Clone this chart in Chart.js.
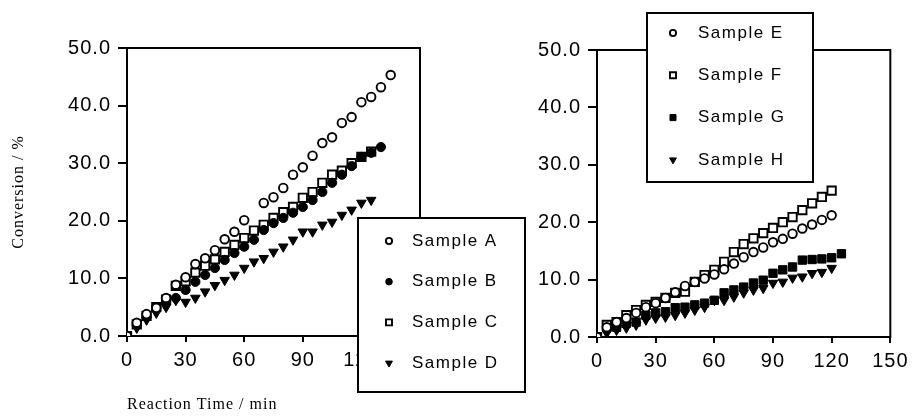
<!DOCTYPE html>
<html>
<head>
<meta charset="utf-8">
<script src="https://cdn.jsdelivr.net/npm/chart.js@4/dist/chart.umd.min.js"></script>
<style>
  html, body { margin: 0; padding: 0; background: #fff; }
  #wrap { position: relative; width: 913px; height: 417px; }
  canvas { position: absolute; left: 0; top: 0; }
</style>
</head>
<body>
<div id="wrap">
  <canvas id="leftPlot" width="913" height="417"></canvas>
  <canvas id="rightPlot" width="913" height="417"></canvas>
</div>
<script>
// ---- axis ticks ----
const xTickValues = [0, 30, 60, 90, 120, 150];
const xTickLabels = ['0', '30', '60', '90', '120', '150'];
const yTickValues = [0, 10, 20, 30, 40, 50];
const yTickLabels = ['0.0', '10.0', '20.0', '30.0', '40.0', '50.0'];

// ---- series names ----
const leftNames = ['Sample A', 'Sample B', 'Sample C', 'Sample D'];
const rightNames = ['Sample E', 'Sample F', 'Sample G', 'Sample H'];

// ---- reaction time (min) and conversion (%) ----
const timeA = [0, 5, 10, 15, 20, 25, 30, 35, 40, 45, 50, 55, 60, 70, 75, 80, 85, 90, 95, 100, 105, 110, 115, 120, 125, 130, 135];
const convA = [0, 2.3, 3.8, 4.9, 6.6, 8.9, 10.2, 12.5, 13.5, 14.9, 16.8, 18.1, 20.1, 23.1, 24.1, 25.7, 28.0, 29.3, 31.3, 33.5, 34.5, 37.0, 38.0, 40.6, 41.5, 43.2, 45.3];

const timeB = [0, 5, 10, 15, 20, 25, 30, 35, 40, 45, 50, 55, 60, 65, 70, 75, 80, 85, 90, 95, 100, 105, 110, 115, 120, 125, 130];
const convB = [0, 1.9, 3.3, 5.0, 5.9, 6.6, 8.0, 9.4, 10.6, 11.8, 13.2, 14.4, 15.5, 16.7, 18.4, 19.6, 20.5, 21.4, 22.4, 23.6, 25.0, 26.6, 28.0, 29.5, 31.1, 31.8, 32.8];

const timeC = [0, 5, 10, 15, 20, 25, 30, 35, 40, 45, 50, 55, 60, 65, 70, 75, 80, 85, 90, 95, 100, 105, 110, 115, 120, 125];
const convC = [0, 2.0, 3.5, 5.0, 6.3, 8.7, 9.5, 11.0, 12.2, 13.3, 14.6, 15.8, 17.0, 18.3, 19.3, 20.5, 21.5, 22.4, 24.0, 25.0, 26.6, 28.0, 28.7, 30.0, 31.1, 32.0];

const timeD = [0, 5, 10, 15, 20, 25, 30, 35, 40, 45, 50, 55, 60, 65, 70, 75, 80, 85, 90, 95, 100, 105, 110, 115, 120, 125];
const convD = [0, 1.4, 2.8, 4.0, 5.0, 6.2, 5.9, 6.6, 7.7, 8.8, 9.7, 10.6, 11.8, 12.9, 13.5, 14.6, 15.5, 16.7, 18.1, 18.1, 19.3, 19.8, 21.0, 21.9, 23.1, 23.6];

const timeE = [0, 5, 10, 15, 20, 25, 30, 35, 40, 45, 50, 55, 60, 65, 70, 75, 80, 85, 90, 95, 100, 105, 110, 115, 120];
const convE = [0, 1.7, 2.6, 3.3, 4.2, 5.2, 5.9, 6.8, 7.8, 8.9, 9.6, 10.2, 10.9, 11.8, 12.8, 13.9, 14.8, 15.6, 16.5, 17.1, 18.0, 18.9, 19.6, 20.4, 21.2];

const timeF = [0, 5, 10, 15, 20, 25, 30, 35, 40, 45, 50, 55, 60, 65, 70, 75, 80, 85, 90, 95, 100, 105, 110, 115, 120];
const convF = [0, 2.1, 2.6, 3.8, 4.7, 5.6, 6.1, 6.8, 7.7, 7.9, 9.6, 10.8, 11.7, 13.1, 14.8, 16.2, 17.2, 18.1, 19.0, 20.0, 20.9, 22.1, 23.3, 24.4, 25.5];

const timeG = [0, 5, 10, 15, 20, 25, 30, 35, 40, 45, 50, 55, 60, 65, 70, 75, 80, 85, 90, 95, 100, 105, 110, 115, 120, 125];
const convG = [0, 1.6, 1.7, 2.4, 2.6, 3.8, 4.2, 4.4, 5.1, 5.2, 5.6, 5.9, 6.4, 7.7, 8.2, 8.7, 9.4, 9.9, 11.1, 11.7, 12.2, 13.4, 13.5, 13.6, 13.8, 14.5];

const timeH = [0, 5, 10, 15, 20, 25, 30, 35, 40, 45, 50, 55, 60, 65, 70, 75, 80, 85, 90, 95, 100, 105, 110, 115, 120];
const convH = [0, 0.7, 1.2, 1.6, 2.1, 3.0, 3.3, 3.5, 3.8, 4.2, 4.7, 5.2, 6.4, 6.4, 7.0, 7.7, 8.2, 8.5, 9.4, 9.6, 10.3, 10.5, 11.1, 11.3, 12.0];

// ---- marker styles ----
const openCircle   = { pointStyle: 'circle',   pointRadius: 4.3, pointBackgroundColor: '#fff', pointBorderColor: '#000', pointBorderWidth: 1.9, pointRotation: 0 };
const filledCircle = { pointStyle: 'circle',   pointRadius: 4.6, pointBackgroundColor: '#000', pointBorderColor: '#000', pointBorderWidth: 1,   pointRotation: 0 };
const openSquare   = { pointStyle: 'rect',     pointRadius: 5.9, pointBackgroundColor: '#fff', pointBorderColor: '#000', pointBorderWidth: 1.9, pointRotation: 0 };
const filledSquare = { pointStyle: 'rect',     pointRadius: 5.9, pointBackgroundColor: '#000', pointBorderColor: '#000', pointBorderWidth: 1,   pointRotation: 0 };
const downTriangle = { pointStyle: 'triangle', pointRadius: 5.5, pointBackgroundColor: '#000', pointBorderColor: '#000', pointBorderWidth: 1,   pointRotation: 180 };

const toPoints = (t, v) => t.map((x, i) => ({ x: x, y: v[i] }));
const series = (label, t, v, style) => Object.assign({ label: label, data: toPoints(t, v), showLine: false, pointHoverRadius: style.pointRadius }, style);

const SANS = '"Liberation Sans", Arial, Helvetica, sans-serif';
const SERIF = '"Liberation Serif", "Times New Roman", serif';

Chart.defaults.color = '#000';
Chart.defaults.animation = false;

// wide tracking for all chart text
const tracking = {
  id: 'tracking',
  beforeDraw(chart) { chart.ctx.letterSpacing = '1px'; }
};

// closed frame around the plotting area
const frame = {
  id: 'frame',
  beforeDatasetsDraw(chart) {
    const a = chart.chartArea, ctx = chart.ctx;
    ctx.save();
    ctx.strokeStyle = '#000';
    ctx.lineWidth = 2;
    ctx.strokeRect(a.left, a.top, a.right - a.left, a.bottom - a.top);
    ctx.restore();
  }
};

// boxed legend painted over the plot
const boxLegend = {
  id: 'boxLegend',
  afterDraw(chart, args, o) {
    const ctx = chart.ctx;
    ctx.save();
    ctx.fillStyle = '#fff';
    ctx.fillRect(o.left, o.top, o.width, o.height);
    ctx.strokeStyle = '#000';
    ctx.lineWidth = 2;
    ctx.strokeRect(o.left, o.top, o.width, o.height);
    ctx.font = '17px ' + SANS;
    ctx.letterSpacing = '1.5px';
    ctx.textBaseline = 'middle';
    ctx.textAlign = 'left';
    chart.data.datasets.forEach((ds, i) => {
      const y = o.firstRow + i * o.rowGap;
      ctx.fillStyle = ds.pointBackgroundColor;
      ctx.strokeStyle = ds.pointBorderColor;
      ctx.lineWidth = ds.pointBorderWidth;
      Chart.helpers.drawPoint(ctx, {
        pointStyle: ds.pointStyle,
        radius: ds.pointRadius * o.markerScale,
        rotation: ds.pointRotation,
        borderWidth: ds.pointBorderWidth
      }, o.markerX, y);
      ctx.fillStyle = '#000';
      ctx.fillText(ds.label, o.textX, y);
    });
    ctx.restore();
  }
};

function makeScales(withTitles, xAxisHeight) {
  return {
    x: {
      type: 'linear', position: 'bottom', min: 0, max: 150,
      afterBuildTicks: s => { s.ticks = xTickValues.map(v => ({ value: v })); },
      afterFit: s => { s.height = xAxisHeight; },
      ticks: {
        callback: (v, i) => xTickLabels[i],
        font: { family: SANS, size: 20 }, color: '#000',
        padding: 6, maxRotation: 0, autoSkip: false
      },
      grid: { display: true, drawOnChartArea: false, drawTicks: true, tickLength: 6, color: '#000', lineWidth: 2 },
      border: { display: true, color: '#000', width: 2 },
      title: {
        display: withTitles, text: 'Reaction Time / min', align: 'start',
        font: { family: SERIF, size: 16 }, color: '#000', padding: { top: 0, bottom: 3 }
      }
    },
    y: {
      type: 'linear', position: 'left', min: 0, max: 50,
      afterBuildTicks: s => { s.ticks = yTickValues.map(v => ({ value: v })); },
      afterFit: s => { s.width = 127; },
      ticks: {
        callback: (v, i) => yTickLabels[i],
        font: { family: SANS, size: 20 }, color: '#000', padding: 7
      },
      grid: { display: true, drawOnChartArea: false, drawTicks: true, tickLength: 9, color: '#000', lineWidth: 2 },
      border: { display: true, color: '#000', width: 2 },
      title: {
        display: withTitles, text: 'Conversion / %',
        font: { family: SERIF, size: 16 }, color: '#000', padding: { top: 9, bottom: 0 }
      }
    }
  };
}

new Chart(document.getElementById('leftPlot'), {
  type: 'scatter',
  data: {
    datasets: [
      series(leftNames[0], timeA, convA, openCircle),
      series(leftNames[1], timeB, convB, filledCircle),
      series(leftNames[2], timeC, convC, openSquare),
      series(leftNames[3], timeD, convD, downTriangle)
    ]
  },
  options: {
    responsive: false,
    layout: { padding: { top: 48, right: 493, bottom: 0, left: 0 } },
    scales: makeScales(true, 81),
    plugins: {
      legend: { display: false },
      tooltip: { enabled: false },
      boxLegend: { left: 358, top: 218, width: 167, height: 174, markerX: 389, textX: 412, firstRow: 241, rowGap: 40.7, markerScale: 0.72 }
    }
  },
  plugins: [tracking, frame, boxLegend]
});

new Chart(document.getElementById('rightPlot'), {
  type: 'scatter',
  data: {
    datasets: [
      series(rightNames[0], timeE, convE, openCircle),
      series(rightNames[1], timeF, convF, openSquare),
      series(rightNames[2], timeG, convG, filledSquare),
      series(rightNames[3], timeH, convH, downTriangle)
    ]
  },
  options: {
    responsive: false,
    layout: { padding: { top: 50, right: 21, bottom: 0, left: 470 } },
    scales: makeScales(false, 80),
    plugins: {
      legend: { display: false },
      tooltip: { enabled: false },
      boxLegend: { left: 647, top: 13, width: 166, height: 169, markerX: 673, textX: 698, firstRow: 33, rowGap: 42.3, markerScale: 0.72 }
    }
  },
  plugins: [tracking, frame, boxLegend]
});
</script>
</body>
</html>
